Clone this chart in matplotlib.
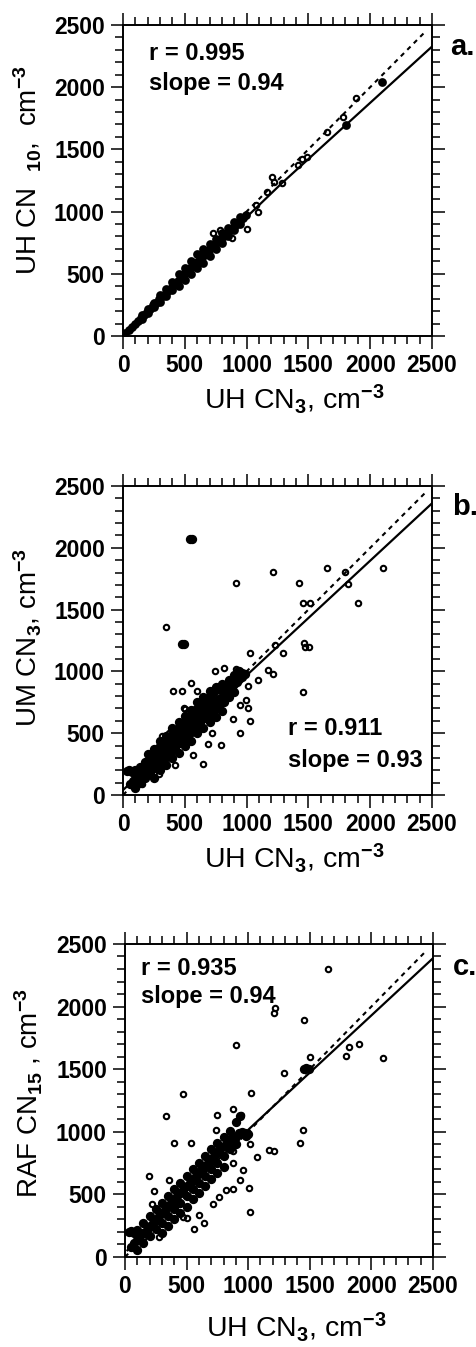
import numpy as np
import matplotlib
matplotlib.use("Agg")
import matplotlib.pyplot as plt
from matplotlib.ticker import MultipleLocator

plt.rcParams['font.family'] = ['Liberation Sans', 'DejaVu Sans']
plt.rcParams['font.weight'] = 'bold'
plt.rcParams['mathtext.fontset'] = 'custom'
plt.rcParams['mathtext.rm'] = 'Liberation Sans'
plt.rcParams['mathtext.it'] = 'Liberation Sans'
plt.rcParams['mathtext.default'] = 'rm'

## panel a: UH CN10 vs UH CN3 (core = overlapping points, drawn solid)
a_core_x = [20, 45, 70, 95, 120, 145, 170, 195, 220, 245, 270, 295, 320, 345, 370, 395, 420, 445, 470, 495,
            520, 545, 570, 595, 620, 645, 670, 695, 720, 745, 770, 795, 820, 845, 870, 895, 920, 945, 970, 995,
            150, 200, 250, 300, 350, 400, 450, 500, 550, 600, 650, 700, 750, 800, 850, 900, 950,
            150, 200, 250, 300, 350, 400, 450, 500, 550, 600, 650, 700, 750, 800, 850, 900, 950,
            1808, 2092]
a_core_y = [20, 45, 68, 95, 118, 145, 168, 195, 218, 245, 268, 295, 318, 345, 368, 395, 418, 445, 468, 495,
            518, 545, 570, 598, 620, 645, 668, 690, 712, 735, 760, 780, 805, 830, 852, 878, 900, 925, 950, 975,
            165, 215, 268, 330, 380, 430, 500, 550, 600, 660, 700, 740, 780, 825, 870, 915, 955,
            135, 185, 232, 270, 320, 370, 400, 450, 500, 545, 590, 640, 700, 750, 800, 850, 900,
            1694, 2045]
a_out_x = [731, 787, 880, 1006, 1077, 1096, 1163, 1203, 1222, 1284, 1418, 1445, 1486, 1648, 1782, 1889]
a_out_y = [825, 852, 785, 857, 1053, 1000, 1160, 1281, 1235, 1227, 1375, 1420, 1442, 1643, 1763, 1910]

## panel b: UM CN3 vs UH CN3
b_core_x = [60, 80, 100, 120, 140, 160, 180, 200, 220, 240, 260, 280, 300, 320, 340, 360, 380, 400, 420, 440,
            460, 480, 500, 520, 540, 560, 580, 600, 620, 640, 660, 680, 700, 720, 740, 760, 780, 800, 820, 840,
            860, 880, 900, 920, 940, 960, 980,
            100, 140, 180, 220, 260, 300, 340, 380, 420, 460, 500, 540, 580, 620, 660, 700, 740, 780, 820, 860,
            900, 940,
            100, 140, 180, 220, 260, 300, 340, 380, 420, 460, 500, 540, 580, 620, 660, 700, 740, 780, 820, 860,
            900,
            200, 250, 300, 350, 400, 450, 500, 550, 600, 650, 700, 750, 800,
            250, 300, 350, 400, 450, 500, 550, 600, 650, 700, 750, 800,
            30, 50, 70, 90, 110, 130,
            930, 960, 990, 540, 555, 475, 490]
b_core_y = [90, 110, 130, 150, 170, 190, 210, 230, 250, 270, 290, 310, 330, 350, 370, 390, 410, 430, 450, 470,
            490, 510, 530, 550, 570, 590, 610, 630, 650, 670, 690, 705, 720, 735, 750, 765, 780, 795, 815, 835,
            855, 875, 895, 915, 935, 955, 975,
            200, 230, 270, 310, 350, 400, 440, 480, 520, 560, 600, 640, 690, 730, 770, 800, 830, 860, 890, 930,
            970, 1000,
            60, 100, 140, 180, 220, 260, 300, 340, 380, 420, 460, 500, 540, 580, 620, 650, 680, 720, 750, 790,
            830,
            330, 370, 440, 480, 540, 590, 640, 690, 750, 790, 840, 870, 900,
            140, 200, 240, 300, 340, 400, 440, 500, 540, 590, 630, 680,
            195, 200, 190, 195, 185, 180,
            1000, 990, 980, 2070, 2070, 1219, 1219]
b_out_x = [348, 912, 1211, 1424, 1459, 1513, 1648, 1796, 1823, 1904, 2101, 1465, 1473, 1508, 1459, 1297,
           1230, 1176, 1216, 1028, 1090, 1009, 744, 817, 915, 407, 475, 550, 494, 313, 375, 563, 718, 790,
           690, 650, 569, 421, 294, 151, 893, 947, 995, 1014, 1028, 947, 906, 502, 596]
b_out_y = [1357, 1712, 1807, 1712, 1550, 1550, 1840, 1807, 1709, 1553, 1839, 1227, 1200, 1200, 834, 1146,
           1214, 1011, 979, 1146, 930, 882, 1006, 1025, 1022, 844, 844, 904, 701, 477, 499, 612, 499, 405,
           410, 251, 324, 243, 170, 89, 612, 728, 769, 701, 601, 504, 916, 696, 844]

## panel c: RAF CN15 vs UH CN3
c_core_x = [50, 75, 100, 125, 150, 175, 200, 225, 250, 275, 300, 325, 350, 375, 400, 425, 450, 475, 500, 525,
            550, 575, 600, 625, 650, 675, 700, 725, 750, 775, 800, 825, 850, 875, 900, 925, 950, 975,
            100, 150, 200, 250, 300, 350, 400, 450, 500, 550, 600, 650, 700, 750, 800, 850, 900, 930,
            100, 150, 200, 250, 300, 350, 400, 450, 500, 550, 600, 650, 700, 750, 800, 850, 900,
            300, 350, 400, 450, 500, 550, 600, 650, 700, 750, 800,
            30, 50, 70, 90, 110, 130, 150,
            960, 980, 1000, 1450, 1470, 1490]
c_core_y = [84, 110, 137, 164, 190, 217, 244, 271, 298, 324, 351, 378, 405, 431, 458, 485, 512, 538, 565, 592,
            619, 645, 672, 699, 726, 752, 779, 806, 833, 859, 886, 913, 940, 955, 960, 990, 1000, 990,
            215, 270, 325, 380, 430, 490, 540, 590, 645, 700, 750, 805, 860, 910, 960, 1010, 1080, 1130,
            60, 110, 165, 220, 270, 325, 380, 430, 485, 540, 590, 645, 700, 750, 805, 860, 900,
            190, 250, 300, 350, 400, 460, 510, 570, 620, 670, 720,
            200, 205, 195, 200, 190, 185, 195,
            990, 970, 980, 1500, 1510, 1505]
c_out_x = [1647, 1214, 1206, 1450, 902, 1287, 1504, 1791, 1818, 1897, 2095, 1418, 1444, 1168, 1206, 1073,
           474, 1024, 333, 745, 880, 943, 740, 395, 537, 192, 238, 219, 360, 279, 558, 639, 599, 469, 767,
           821, 880, 935, 956, 1005, 1011, 875, 880, 1016, 713, 501, 441, 144]
c_out_y = [2297, 1985, 1945, 1892, 1692, 1466, 1594, 1607, 1679, 1700, 1591, 914, 1018, 858, 845, 800,
           1300, 1306, 1125, 1133, 1186, 1133, 1018, 911, 911, 647, 528, 427, 619, 160, 221, 275, 333, 320, 480,
           533, 547, 613, 693, 555, 360, 845, 751, 901, 421, 310, 426, 154]

## lines: fit (solid) and 1:1 (dashed)
a_fit_x = [0, 1284, 2500]
a_fit_y = [0, 1227, 2326]
b_fit_x = [0, 2500]
b_fit_y = [40, 2360]
c_fit_x = [20, 1011, 2500]
c_fit_y = [54, 1026, 2386]
one_x = [0, 2450]
one_y = [0, 2450]

ylabels = ["UH CN  $_{10}$,  cm$^{-3}$", "UM CN$_3$, cm$^{-3}$", "RAF CN$_{15}$ , cm$^{-3}$"]
xlabel = "UH CN$_3$, cm$^{-3}$"
stats = [("r = 0.995", "slope = 0.94"), ("r = 0.911", "slope = 0.93"), ("r = 0.935", "slope = 0.94")]
panel_tags = ["a.", "b.", "c."]

fig = plt.figure(figsize=(4.77, 13.47), dpi=100)
rects = [[0.2579, 0.7506, 0.6478, 0.2309],
         [0.2579, 0.4098, 0.6478, 0.2294],
         [0.2620, 0.0668, 0.6457, 0.2324]]
cores = [(a_core_x, a_core_y), (b_core_x, b_core_y), (c_core_x, c_core_y)]
core_ms = [4.8, 5.2, 5.2]
outs = [(a_out_x, a_out_y), (b_out_x, b_out_y), (c_out_x, c_out_y)]
fits = [(a_fit_x, a_fit_y), (b_fit_x, b_fit_y), (c_fit_x, c_fit_y)]
# text spots (data coords): left x, baseline of r line, baseline of slope line
txt_pos = [(210, 2219, 1977), (1335, 485, 227), (130, 2252, 2028)]
tag_pos = [(1.058, 0.904), (1.064, 0.906), (1.066, 0.90)]
ylab_pos = [(-0.255, 0.532), (-0.255, 0.51), (-0.259, 0.525)]
xlab_pos = [(0.555, -0.15), (0.555, -0.15), (0.555, -0.17)]

for i in range(3):
    ax = fig.add_axes(rects[i])
    ax.plot(one_x, one_y, color="k", lw=1.5, ls=(0, (2.2, 2.2)))
    ax.plot(fits[i][0], fits[i][1], color="k", lw=1.6)
    ax.plot(cores[i][0], cores[i][1], "o", ms=core_ms[i], mfc="k", mec="k", mew=1.5)
    ax.plot(outs[i][0], outs[i][1], "o", ms=3.9, mfc="none", mec="k", mew=1.5)
    ax.set_xlim(0, 2500)
    ax.set_ylim(0, 2500)
    ax.xaxis.set_major_locator(MultipleLocator(500))
    ax.yaxis.set_major_locator(MultipleLocator(500))
    ax.xaxis.set_minor_locator(MultipleLocator(100))
    ax.yaxis.set_minor_locator(MultipleLocator(100))
    ax.tick_params(which="both", direction="out", top=True, right=True, width=1.1, labelsize=16.5, pad=4)
    ax.tick_params(which="major", length=9)
    ax.tick_params(which="minor", length=5.5)
    for s in ax.spines.values():
        s.set_linewidth(1.4)
    ax.set_ylabel(ylabels[i], fontsize=20, fontweight="normal")
    ax.yaxis.set_label_coords(*ylab_pos[i])
    ax.set_xlabel(xlabel, fontsize=20.5, fontweight="normal")
    ax.xaxis.set_label_coords(*xlab_pos[i])
    tx, ty1, ty2 = txt_pos[i]
    ax.text(tx, ty1, stats[i][0], fontsize=17, va="baseline", ha="left")
    ax.text(tx, ty2, stats[i][1], fontsize=17, va="baseline", ha="left")
    ax.text(tag_pos[i][0], tag_pos[i][1], panel_tags[i], fontsize=21,
            va="baseline", ha="left", transform=ax.transAxes)

fig.savefig("out.png", dpi=100)
